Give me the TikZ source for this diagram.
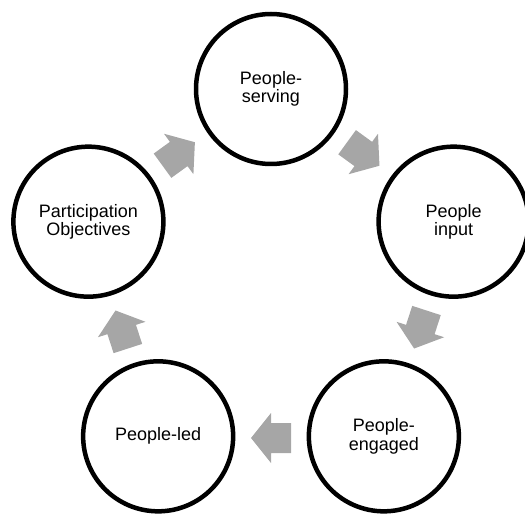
\documentclass[tikz,border=0pt]{standalone}
\usepackage{fontspec}
\setmainfont{Liberation Sans}
\definecolor{arrowgray}{HTML}{A6A6A6}
\begin{document}
\begin{tikzpicture}[x=1pt,y=1pt,
  cyclenode/.style={circle,draw=black,line width=4.5pt,fill=white,inner sep=0pt,
    minimum size=150pt,align=center,font=\fontsize{18}{18.5}\selectfont},
  blockarrow/.style={fill=arrowgray,draw=none}]
\useasboundingbox (0,0) rectangle (525,515);
\coordinate (C) at (271,234);
\node[cyclenode] (serv) at ([shift={(90:192)}]C) {People-\\serving};
\node[cyclenode] (input) at ([shift={(18:192)}]C) {People\\input};
\node[cyclenode] (eng) at ([shift={(-54:192)}]C) {People-\\engaged};
\node[cyclenode] (led) at ([shift={(-126:192)}]C) {People-led};
\node[cyclenode] (obj) at ([shift={(162:192)}]C) {Participation\\Objectives};
\foreach \a in {54,-18,-90,-162,126}{
  \fill[blockarrow,shift={(C)},shift={(\a:157)},rotate=\a-90]
    (-20,-15) -- (0,-15) -- (0,-25) -- (20,0) -- (0,25) -- (0,15) -- (-20,15) -- cycle;
}
\end{tikzpicture}
\end{document}
